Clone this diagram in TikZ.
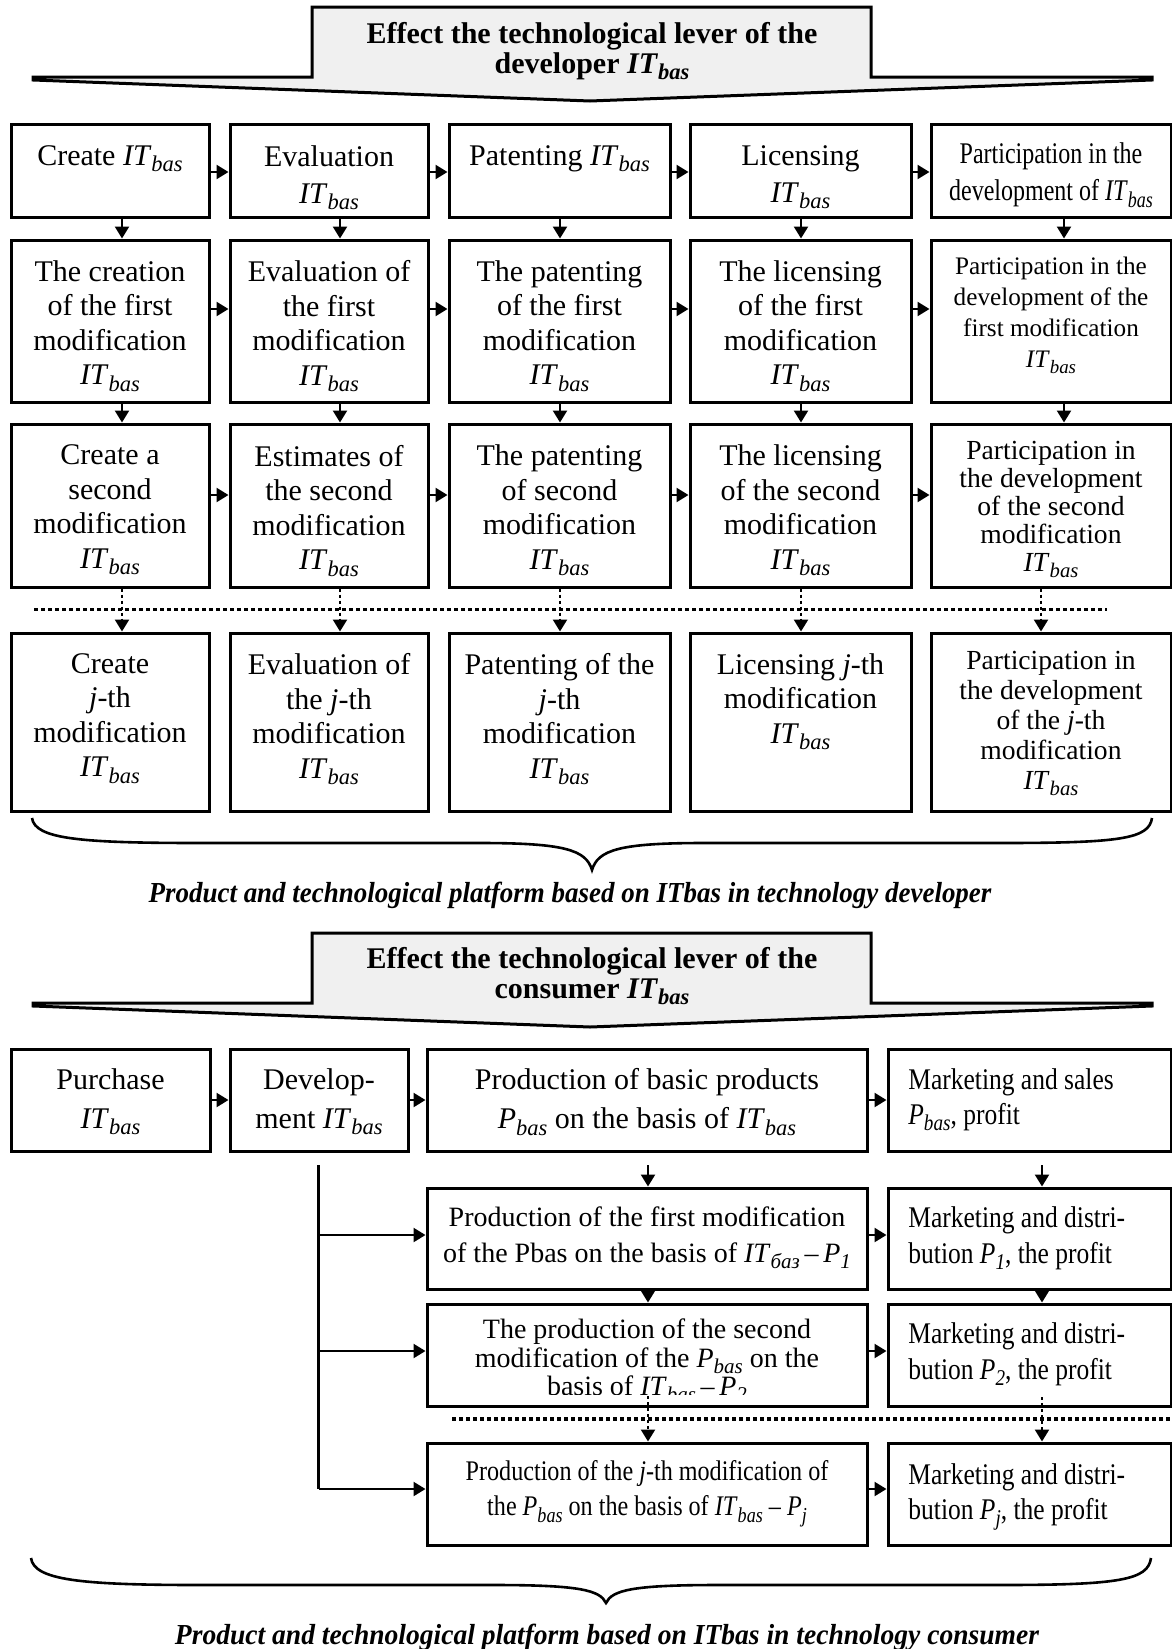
\documentclass[tikz,border=0pt]{standalone}
\usepackage{fontspec}
\usepackage{graphicx}
\setmainfont{Liberation Serif}
\newfontfamily\condA[FakeStretch=0.85]{Liberation Serif}
\newfontfamily\condB[FakeStretch=0.80]{Liberation Serif}
\newfontfamily\condC[FakeStretch=0.93]{Liberation Serif}
\newfontfamily\condD[FakeStretch=0.95]{Liberation Serif}
\usetikzlibrary{arrows.meta,calc,fit}
\newcommand{\lsub}[1]{\raisebox{-0.22em}{\scalebox{0.75}{\itshape #1}}}
\newcommand{\ITb}{\textit{IT}\lsub{bas}}
\begin{document}
\begin{tikzpicture}[x=0.5pt,y=-0.5pt,
  box/.style={draw,line width=1.5pt,inner sep=0pt},
  txt/.style={inner sep=0pt,align=center,anchor=north,font=\fontsize{15}{17.25}\selectfont},
  mtxt/.style={inner sep=0pt,align=left,anchor=north west,font=\condA\fontsize{15}{17.5}\selectfont},
  bantxt/.style={inner sep=0pt,align=center,anchor=north,font=\bfseries\fontsize{15}{14.75}\selectfont},
  captxt/.style={inner sep=0pt,font=\condC\bfseries\itshape\fontsize{14.5}{16}\selectfont},
  banner/.style={draw,line width=1.5pt,fill=black!6,line join=miter,miter limit=4},
  arr/.style={line width=1.2pt,-{Triangle[length=6pt,width=7pt]}},
  darr/.style={line width=1.2pt,dash pattern=on 1.5pt off 1.5pt,-{Triangle[length=6pt,width=7pt]}},
  dotline/.style={line width=1.6pt,dash pattern=on 2pt off 1.5pt},
  brace/.style={line width=1.3pt}]
\useasboundingbox (0,0) rectangle (1172,1649);

% ---------- top banner ----------
\draw[banner] (312,7) -- (871,7) -- (871,77) -- (1152,77) -- (1152,80) -- (590,101) -- (33,80) -- (33,77) -- (312,77) -- cycle;
\node[bantxt] (ban1) at (592,22) {Effect the technological lever of the\\developer \ITb};

% ---------- developer boxes ----------
\node[box,fit={(11,124)(209,217)}] (b11) {};
\node[box,fit={(230,124)(428,217)}] (b12) {};
\node[box,fit={(449,124)(670,217)}] (b13) {};
\node[box,fit={(690,124)(911,217)}] (b14) {};
\node[box,fit={(931,124)(1171,217)}] (b15) {};

\node[box,fit={(11,240)(209,402)}] (b21) {};
\node[box,fit={(230,240)(428,402)}] (b22) {};
\node[box,fit={(449,240)(670,402)}] (b23) {};
\node[box,fit={(690,240)(911,402)}] (b24) {};
\node[box,fit={(931,240)(1171,402)}] (b25) {};

\node[box,fit={(11,424)(209,587)}] (b31) {};
\node[box,fit={(230,424)(428,587)}] (b32) {};
\node[box,fit={(449,424)(670,587)}] (b33) {};
\node[box,fit={(690,424)(911,587)}] (b34) {};
\node[box,fit={(931,424)(1171,587)}] (b35) {};

\node[box,fit={(11,633)(209,811)}] (b41) {};
\node[box,fit={(230,633)(428,811)}] (b42) {};
\node[box,fit={(449,633)(670,811)}] (b43) {};
\node[box,fit={(690,633)(911,811)}] (b44) {};
\node[box,fit={(931,633)(1171,811)}] (b45) {};

% texts row 1
\node[txt,font=\fontsize{15}{18.5}\selectfont] (t11) at (110,145) {Create \ITb};
\node[txt,font=\fontsize{15}{18.5}\selectfont] (t12) at (329,145) {Evaluation\\\ITb};
\node[txt,font=\fontsize{15}{18.5}\selectfont] (t13) at (559.5,145) {Patenting \ITb};
\node[txt,font=\fontsize{15}{18.5}\selectfont] (t14) at (800.5,145) {Licensing\\\ITb};
\node[txt,font=\condB\fontsize{15}{18.75}\selectfont] (t15) at (1051,142) {Participation in the\\development of \ITb};
% row 2
\node[txt] (t21) at (110,260) {The creation\\of the first\\modification\\\ITb};
\node[txt] (t22) at (329,260) {Evaluation of\\the first\\modification\\\ITb};
\node[txt] (t23) at (559.5,260) {The patenting\\of the first\\modification\\\ITb};
\node[txt] (t24) at (800.5,260) {The licensing\\of the first\\modification\\\ITb};
\node[txt,font=\fontsize{12.6}{15.5}\selectfont] (t25) at (1051,257) {Participation in the\\development of the\\first modification\\\ITb};
% row 3
\node[txt] (t31) at (110,444.5) {Create a\\second\\modification\\\ITb};
\node[txt] (t32) at (329,444.5) {Estimates of\\the second\\modification\\\ITb};
\node[txt] (t33) at (559.5,444.5) {The patenting\\of second\\modification\\\ITb};
\node[txt] (t34) at (800.5,444.5) {The licensing\\of the second\\modification\\\ITb};
\node[txt,font=\fontsize{13.8}{14}\selectfont] (t35) at (1051,441) {Participation in\\the development\\of the second\\modification\\\ITb};
% row 4
\node[txt] (t41) at (110,653) {Create\\\textit{j}-th\\modification\\\ITb};
\node[txt] (t42) at (329,653) {Evaluation of\\the \textit{j}-th\\modification\\\ITb};
\node[txt] (t43) at (559.5,653) {Patenting of the\\\textit{j}-th\\modification\\\ITb};
\node[txt] (t44) at (800.5,653) {Licensing \textit{j}-th\\modification\\\ITb};
\node[txt,font=\fontsize{13.8}{15}\selectfont] (t45) at (1051,651) {Participation in\\the development\\of the \textit{j}-th\\modification\\\ITb};

% horizontal arrows
\foreach \r/\dy in {1/1.5,2/-12,3/-10.5}{
  \draw[arr] ($(b\r1.east)+(0,\dy)$) -- ($(b\r2.west)+(0,\dy)$);
  \draw[arr] ($(b\r2.east)+(0,\dy)$) -- ($(b\r3.west)+(0,\dy)$);
  \draw[arr] ($(b\r3.east)+(0,\dy)$) -- ($(b\r4.west)+(0,\dy)$);
  \draw[arr] ($(b\r4.east)+(0,\dy)$) -- ($(b\r5.west)+(0,\dy)$);
}
% vertical arrows
\foreach \c/\dx in {1/12,2/11,3/0.5,4/0.5,5/13}{
  \draw[arr] ($(b1\c.south)+(\dx,0)$) -- ($(b2\c.north)+(\dx,0)$);
  \draw[arr] ($(b2\c.south)+(\dx,0)$) -- ($(b3\c.north)+(\dx,0)$);
}
% dotted separator and dotted arrows
\coordinate (dl1) at (34,609.5);
\coordinate (dl2) at (1107,609.5);
\draw[dotline] (dl1) -- (dl2);
\foreach \c/\dx in {1/12,2/11,3/0.5,4/0.5,5/-10}{
  \draw[darr] ($(b3\c.south)+(\dx,0)$) -- ($(b4\c.north)+(\dx,0)$);
}
% brace 1
\draw[brace] (32,818) .. controls (35,839) and (80,843) .. (200,843) -- (480,843)
  .. controls (565,843) and (586,850) .. (592,870)
  .. controls (598,850) and (619,843) .. (704,843) -- (1000,843)
  .. controls (1120,843) and (1149,839) .. (1152,818);
\node[captxt] (cap1) at (570,895) {Product and technological platform based on ITbas in technology developer};

% ---------- consumer banner ----------
\draw[banner] (312,933) -- (871,933) -- (871,1003) -- (1152,1003) -- (1152,1006) -- (590,1027) -- (33,1006) -- (33,1003) -- (312,1003) -- cycle;
\node[bantxt] (ban2) at (592,947) {Effect the technological lever of the\\consumer \ITb};

% consumer boxes
\node[box,fit={(11,1049)(210,1151)}] (a1) {};
\node[box,fit={(230,1049)(408,1151)}] (a2) {};
\node[box,fit={(427,1049)(867,1151)}] (a3) {};
\node[box,fit={(888,1049)(1171,1151)}] (a4) {};
\node[box,fit={(427,1188)(867,1289)}] (bb3) {};
\node[box,fit={(888,1188)(1171,1289)}] (bb4) {};
\node[box,fit={(427,1304)(867,1406)}] (c3) {};
\node[box,fit={(888,1304)(1171,1406)}] (c4) {};
\node[box,fit={(427,1443)(867,1545)}] (d3) {};
\node[box,fit={(888,1443)(1171,1545)}] (d4) {};

\node[txt,font=\fontsize{15}{19.5}\selectfont] (ta1) at (110.5,1068) {Purchase\\\ITb};
\node[txt,font=\fontsize{15}{19.5}\selectfont] (ta2) at (319,1068) {Develop-\\ment \ITb};
\node[txt,font=\fontsize{15}{19.5}\selectfont] (ta3) at (647,1068) {Production of basic products\\\textit{P}\lsub{bas} on the basis of \ITb};
\node[mtxt] (ta4) at (908,1068) {Marketing and sales\\\textit{P}\lsub{bas}, profit};

\node[txt,font=\fontsize{14}{18}\selectfont] (tb3) at (647,1206.5) {Production of the first modification\\of the Pbas on the basis of \textit{IT}\lsub{баз}\,–\,\textit{P}\lsub{1}};
\node[mtxt,font=\condA\fontsize{15}{18}\selectfont] (tb4) at (908,1206) {Marketing and distri-\\bution \textit{P}\lsub{1}, the profit};

\begin{scope}
\clip (427,1304) rectangle (867,1394);
\node[txt,font=\fontsize{14}{14.3}\selectfont] (tc3) at (647,1318.5) {The production of the second\\modification of the \textit{P}\lsub{bas} on the\\basis of \ITb\,–\,\textit{P}\lsub{2}};
\end{scope}
\node[mtxt,font=\condA\fontsize{15}{18}\selectfont] (tc4) at (908,1322) {Marketing and distri-\\bution \textit{P}\lsub{2}, the profit};

\node[txt,font=\condA\fontsize{14.2}{17.5}\selectfont] (td3) at (647,1460.5) {Production of the \textit{j}-th modification of\\the \textit{P}\lsub{bas} on the basis of \ITb\ –\ \textit{P}\lsub{j}};
\node[mtxt,font=\condA\fontsize{15}{17.5}\selectfont] (td4) at (908,1463) {Marketing and distri-\\bution \textit{P}\lsub{j}, the profit};

% consumer arrows
\draw[arr] (a1.east) -- (a2.west);
\draw[arr] (a2.east) -- (a3.west);
\draw[arr] (a3.east) -- (a4.west);
\draw[arr] ($(bb3.east)+(0,-3.5)$) -- ($(bb4.west)+(0,-3.5)$);
\draw[arr] ($(c3.east)+(0,-4)$) -- ($(c4.west)+(0,-4)$);
\draw[arr] ($(d3.east)+(0,-5)$) -- ($(d4.west)+(0,-5)$);

\coordinate (s3) at (648,1165);
\coordinate (s4) at (1042,1165);
\draw[arr] (s3) -- (bb3.north -| s3);
\draw[arr] (s4) -- (bb4.north -| s4);
\draw[arr] (bb3.south -| s3) -- (c3.north -| s3);
\draw[arr] (bb4.south -| s4) -- (c4.north -| s4);

\coordinate (e1) at (452,1419);
\coordinate (e2) at (1172,1419);
\draw[dotline] (e1) -- (e2);
\coordinate (u3) at (648,1396);
\coordinate (u4) at (1042,1397);
\draw[darr] (u3) -- (d3.north -| u3);
\draw[darr] (u4) -- (d4.north -| u4);

\coordinate (bus0) at (318.5,1165);
\coordinate (bus1) at (318.5,1489);
\draw[line width=1.4pt] (bus0) -- (bus1);
\coordinate (k1) at (318.5,1235);
\coordinate (k2) at (318.5,1351);
\coordinate (k3) at (318.5,1489);
\draw[arr] (k1) -- (k1 -| bb3.west);
\draw[arr] (k2) -- (k2 -| c3.west);
\draw[arr] (k3) -- (k3 -| d3.west);

% brace 2
\draw[brace] (31,1558) .. controls (34,1580) and (80,1585) .. (200,1585) -- (494,1585)
  .. controls (579,1585) and (600,1590) .. (606,1603)
  .. controls (612,1590) and (633,1585) .. (718,1585) -- (1000,1585)
  .. controls (1120,1585) and (1148,1580) .. (1151,1558);
\node[captxt,font=\condD\bfseries\itshape\fontsize{14.5}{16}\selectfont] (cap2) at (607,1637) {Product and technological platform based on ITbas in technology consumer};
\end{tikzpicture}
\end{document}
